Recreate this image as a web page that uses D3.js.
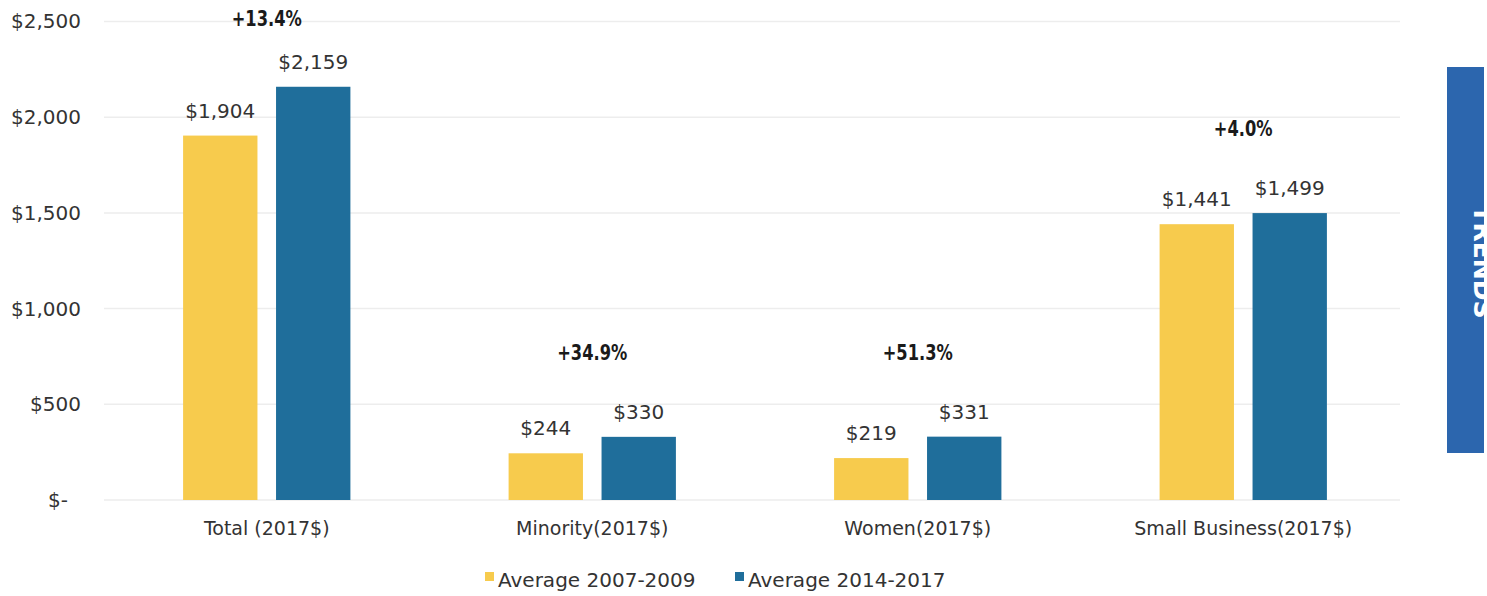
<!DOCTYPE html>
<html>
<head>
<meta charset="utf-8">
<script src="https://cdn.jsdelivr.net/npm/d3@7"></script>
<style>
  html, body { margin: 0; padding: 0; background: #fff; }
  svg { display: block; }
  text { font-family: "DejaVu Sans", sans-serif; fill: #333; }
</style>
</head>
<body>
<svg id="chart" width="1487" height="596"></svg>
<script>
// Spending by category, in millions of 2017 dollars
const categories = ["Total (2017$)", "Minority(2017$)", "Women(2017$)", "Small Business(2017$)"];
const seriesNames = ["Average 2007-2009", "Average 2014-2017"];
const avg2007_2009 = [1904, 244, 219, 1441];
const avg2014_2017 = [2159, 330, 331, 1499];
const changeLabels = ["+13.4%", "+34.9%", "+51.3%", "+4.0%"];
const yTicks = [0, 500, 1000, 1500, 2000, 2500];

const colors = ["#F7CB4D", "#1F6E9B"];

const svg = d3.select("#chart");

const y = d3.scaleLinear().domain([0, 2500]).range([500, 21.5]);
const x0 = d3.scaleBand().domain(categories).range([104, 1406]).padding(0);
const x1 = d3.scaleBand().domain(seriesNames)
  .range([x0.bandwidth() * 0.243, x0.bandwidth() * 0.757])
  .paddingInner(0.2).paddingOuter(0);

const fmt = d3.format(",");

// Gridlines
svg.append("g")
  .selectAll("line")
  .data(yTicks)
  .join("line")
  .attr("x1", 104).attr("x2", 1400)
  .attr("y1", d => y(d)).attr("y2", d => y(d))
  .attr("stroke", "#ededed").attr("stroke-width", 1.5);

// Y axis labels
const yAxis = d3.axisLeft(y).tickValues(yTicks).tickSize(0).tickPadding(0)
  .tickFormat(d => d === 0 ? "$-" : "$" + fmt(d));
const gy = svg.append("g").attr("transform", "translate(81,0)").call(yAxis);
gy.select(".domain").remove();
gy.selectAll("text")
  .attr("font-family", "DejaVu Sans, sans-serif")
  .attr("font-size", 20)
  .attr("fill", "#333")
  .attr("dx", d => d === 0 ? -13 : 0);

// Bars
const rows = categories.map((c, i) => ({
  cat: c,
  values: [avg2007_2009[i], avg2014_2017[i]],
  change: changeLabels[i]
}));

const groups = svg.append("g").selectAll("g")
  .data(rows)
  .join("g")
  .attr("transform", d => `translate(${x0(d.cat)},0)`);

groups.selectAll("rect")
  .data(d => d.values.map((v, j) => ({ series: seriesNames[j], value: v, j })))
  .join("rect")
  .attr("x", d => x1(d.series))
  .attr("width", x1.bandwidth())
  .attr("y", d => y(d.value))
  .attr("height", d => y(0) - y(d.value))
  .attr("fill", d => colors[d.j]);

// Value labels
groups.selectAll("text.val")
  .data(d => d.values.map((v, j) => ({ series: seriesNames[j], value: v })))
  .join("text")
  .attr("class", "val")
  .attr("x", d => x1(d.series) + x1.bandwidth() / 2)
  .attr("y", d => y(d.value) - 18)
  .attr("text-anchor", "middle")
  .attr("font-size", 20)
  .text(d => "$" + fmt(d.value));

// Change labels: tall, narrow bold type
groups.append("text")
  .attr("transform", d =>
    `translate(${x0.bandwidth() / 2},${Math.max(18, y(d3.max(d.values)) - 85) + 8}) scale(0.74,1)`)
  .attr("text-anchor", "middle")
  .attr("font-weight", "bold")
  .attr("font-size", 22)
  .style("fill", "#1a1a1a")
  .text(d => d.change);

// Category labels
svg.append("g").selectAll("text")
  .data(categories)
  .join("text")
  .attr("x", d => x0(d) + x0.bandwidth() / 2)
  .attr("y", 535)
  .attr("text-anchor", "middle")
  .attr("font-size", 19)
  .text(d => d);

// Legend
const legendX = [485, 735];
const legend = svg.append("g").selectAll("g")
  .data(seriesNames)
  .join("g")
  .attr("transform", (d, i) => `translate(${legendX[i]},0)`);
legend.append("rect")
  .attr("x", 0).attr("y", 572).attr("width", 9).attr("height", 9)
  .attr("fill", (d, i) => colors[i]);
legend.append("text")
  .attr("x", 13).attr("y", 587)
  .attr("font-size", 20)
  .text(d => d);

// Side tab
const clip = svg.append("clipPath").attr("id", "tabClip");
clip.append("rect").attr("x", 1447).attr("y", 67).attr("width", 37).attr("height", 386);
svg.append("rect")
  .attr("x", 1447).attr("y", 67).attr("width", 37).attr("height", 386)
  .attr("fill", "#2C66AE");
svg.append("g").attr("clip-path", "url(#tabClip)")
  .append("text")
  .attr("transform", "translate(1474,262) rotate(90)")
  .attr("text-anchor", "middle")
  .attr("font-weight", "bold")
  .attr("font-size", 25)
  .style("fill", "#fff")
  .text("TRENDS");
</script>
</body>
</html>
